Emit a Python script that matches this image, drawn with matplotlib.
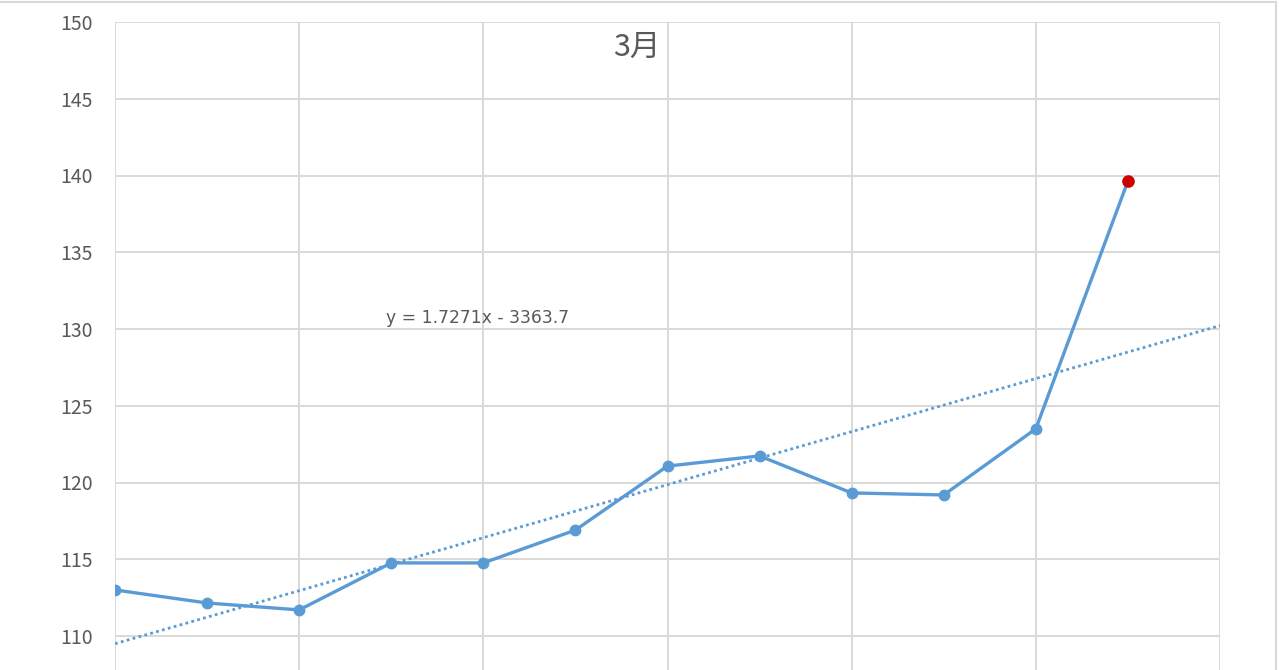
import matplotlib
matplotlib.use("Agg")
import matplotlib.pyplot as plt
import numpy as np
from matplotlib.lines import Line2D

plt.rcParams['font.family'] = ['Noto Sans CJK JP', 'DejaVu Sans']

years = [2011, 2012, 2013, 2014, 2015, 2016, 2017, 2018, 2019, 2020, 2021, 2022]
values = [113.0, 112.15, 111.7, 114.76, 114.76, 116.9, 121.07, 121.73, 119.32, 119.19, 123.5, 139.64]
trend_slope = 1.7271
trend_intercept = -3363.7
trend_years = [2011, 2023]
title = "3月"
eq_label = "y = 1.7271x - 3363.7"
yticks = [110, 115, 120, 125, 130, 135, 140, 145, 150]

W, H = 1280, 670
fig = plt.figure(figsize=(W / 100, H / 100), dpi=100)
fig.patch.set_facecolor('white')

px_per_unit = (636 - 22) / 40.0
ymin = 150 - (H - 22) / px_per_unit
ax = fig.add_axes([115 / W, 0, (1220 - 115) / W, (H - 22) / H])
ax.set_xlim(2011, 2023)
ax.set_ylim(ymin, 150)

grid_c = '#d9d9d9'
for s in ax.spines.values():
    s.set_visible(False)
ax.set_yticks(yticks)
ax.set_xticks(np.arange(2011, 2024, 2))
ax.grid(True, color=grid_c, linewidth=1.4)
ax.set_axisbelow(True)
ax.tick_params(axis='both', length=0)
ax.tick_params(axis='y', labelsize=14, labelcolor='#595959', pad=16)
ax.set_xticklabels([])

blue = '#5B9BD5'
tx = np.array(trend_years, dtype=float)
ax.plot(tx, trend_slope * tx + trend_intercept, linestyle=(0, (1, 1.2)),
        color=blue, linewidth=2.0, zorder=2)
ax.plot(years, values, color=blue, linewidth=2.4, marker='o', markersize=7.5,
        markerfacecolor=blue, markeredgecolor=blue, zorder=3)
ax.plot(years[-1:], values[-1:], linestyle='none', marker='o', markersize=8,
        color='#d00000', zorder=4)

ax.text(2013.94, 130.7, eq_label, fontsize=12.3, color='#595959',
        ha='left', va='center', family=['DejaVu Sans'])

fig.text(637 / W, 1 - 47 / H, title, fontsize=22, color='#595959',
         ha='center', va='center')

# chart area border (partially visible)
fig.add_artist(Line2D([0, 1276 / W], [1 - 2 / H, 1 - 2 / H], color=grid_c, linewidth=1.5))
fig.add_artist(Line2D([1276 / W, 1276 / W], [0, 1 - 2 / H], color=grid_c, linewidth=1.5))

fig.savefig('out.png', dpi=100)
